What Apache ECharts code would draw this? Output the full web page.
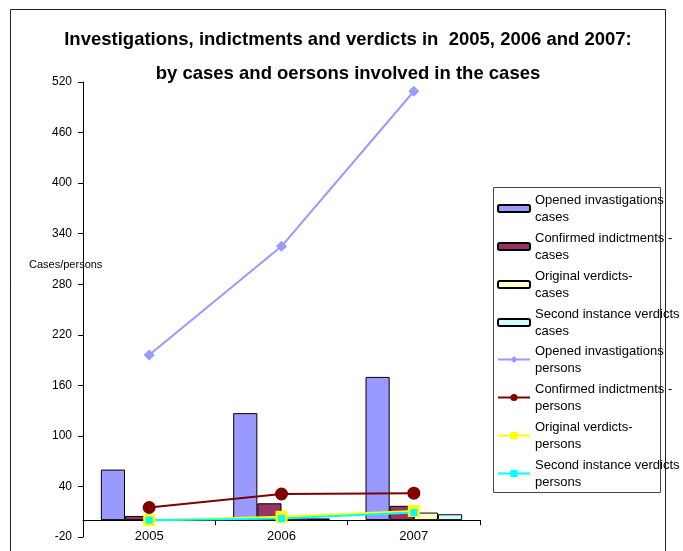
<!DOCTYPE html>
<html><head><meta charset="utf-8">
<script src="https://cdn.jsdelivr.net/npm/echarts@6/dist/echarts.min.js"></script>
<style>html,body{margin:0;padding:0;background:#fff}#c{width:683px;height:551px}</style>
</head><body><div id="c"></div>
<script>
var categories = ['2005', '2006', '2007'];
var yTicks = [-20, 520, 60];
var openedCases = [60, 127, 170];
var confirmedCases = [5, 20, 17];
var originalCases = [1, 3, 9];
var secondCases = [0, 2, 7];
var openedPersons = [196, 325, 509];
var confirmedPersons = [15, 31, 32];
var originalPersons = [0, 4, 11];
var secondPersons = [0, 2, 9];
var names = [
  'Opened invastigations\ncases', 'Confirmed indictments -\ncases', 'Original verdicts-\ncases', 'Second instance verdicts\ncases',
  'Opened invastigations\npersons', 'Confirmed indictments -\npersons', 'Original verdicts-\npersons', 'Second instance verdicts\npersons'
];

var chart = echarts.init(document.getElementById('c'));
var F = 'Liberation Sans, Arial, sans-serif';
function bar(name, data, color) {
  return { name: name, type: 'bar', data: data, barGap: '0%', barCategoryGap: '27%',
    itemStyle: { color: color, borderColor: '#000', borderWidth: 1 }, animation: false };
}
function line(name, data, color, symbol, size) {
  return { name: name, type: 'line', data: data, symbol: symbol, symbolSize: size,
    lineStyle: { color: color, width: 2 }, itemStyle: { color: color }, z: 5, animation: false };
}
var legendText = { fontFamily: F, fontSize: 13, color: '#000', lineHeight: 17, padding: [17, 0, 0, 0] };
chart.setOption({
  animation: false,
  title: [
    { text: 'Investigations, indictments and verdicts in  2005, 2006 and 2007:', left: 343, top: 25, textAlign: 'center',
      textStyle: { fontFamily: F, fontSize: 18.5, fontWeight: 'bold', color: '#000' } },
    { text: 'by cases and oersons involved in the cases', left: 343, top: 59, textAlign: 'center',
      textStyle: { fontFamily: F, fontSize: 18.5, fontWeight: 'bold', color: '#000' } }
  ],
  grid: { left: 83, right: 203, top: 82, bottom: 14, containLabel: false, outerBoundsMode: 'none' },
  xAxis: {
    type: 'category', data: categories,
    axisLine: { onZero: true, lineStyle: { color: '#000', width: 1 } },
    axisTick: { show: true, length: 5, lineStyle: { color: '#000' } },
    axisLabel: { color: '#000', fontFamily: F, fontSize: 13, margin: -7 },
    splitLine: { show: false }
  },
  yAxis: {
    type: 'value', min: yTicks[0], max: yTicks[1], interval: yTicks[2],
    axisLine: { show: true, lineStyle: { color: '#000', width: 1 } },
    axisTick: { show: true, length: 5, lineStyle: { color: '#000' } },
    axisLabel: { color: '#000', fontFamily: F, fontSize: 12, margin: 11 },
    splitLine: { show: false }
  },
  legend: [{
    orient: 'vertical', left: 497, top: 183, itemWidth: 32, itemHeight: 7, itemGap: -13,
    padding: 0, data: names.slice(0, 4), textStyle: legendText
  }, {
    orient: 'vertical', left: 497, top: 334, itemWidth: 32, itemHeight: 9, itemGap: -13,
    padding: 0, data: names.slice(4), textStyle: legendText
  }],
  graphic: [
    { type: 'rect', shape: { x: 10.5, y: 9.5, width: 655, height: 560 }, style: { fill: 'none', stroke: '#222', lineWidth: 1 }, silent: true, z: -1 },
    { type: 'rect', shape: { x: 493.5, y: 187.5, width: 167, height: 305 }, style: { fill: '#fff', stroke: '#444', lineWidth: 1 }, silent: true, z: -1 },
    { type: 'text', left: 29, top: 259, style: { text: 'Cases/persons', font: '11px ' + F, fill: '#000' }, z: 10 }
  ],
  series: [
    bar(names[0], openedCases, '#9999FF'),
    bar(names[1], confirmedCases, '#993366'),
    bar(names[2], originalCases, '#FFFFCC'),
    bar(names[3], secondCases, '#CCFFFF'),
    line(names[4], openedPersons, '#9999FF', 'diamond', 11),
    line(names[5], confirmedPersons, '#800000', 'circle', 13),
    line(names[6], originalPersons, '#FFFF00', 'rect', 12),
    line(names[7], secondPersons, '#00FFFF', 'rect', 7)
  ]
});
</script></body></html>
